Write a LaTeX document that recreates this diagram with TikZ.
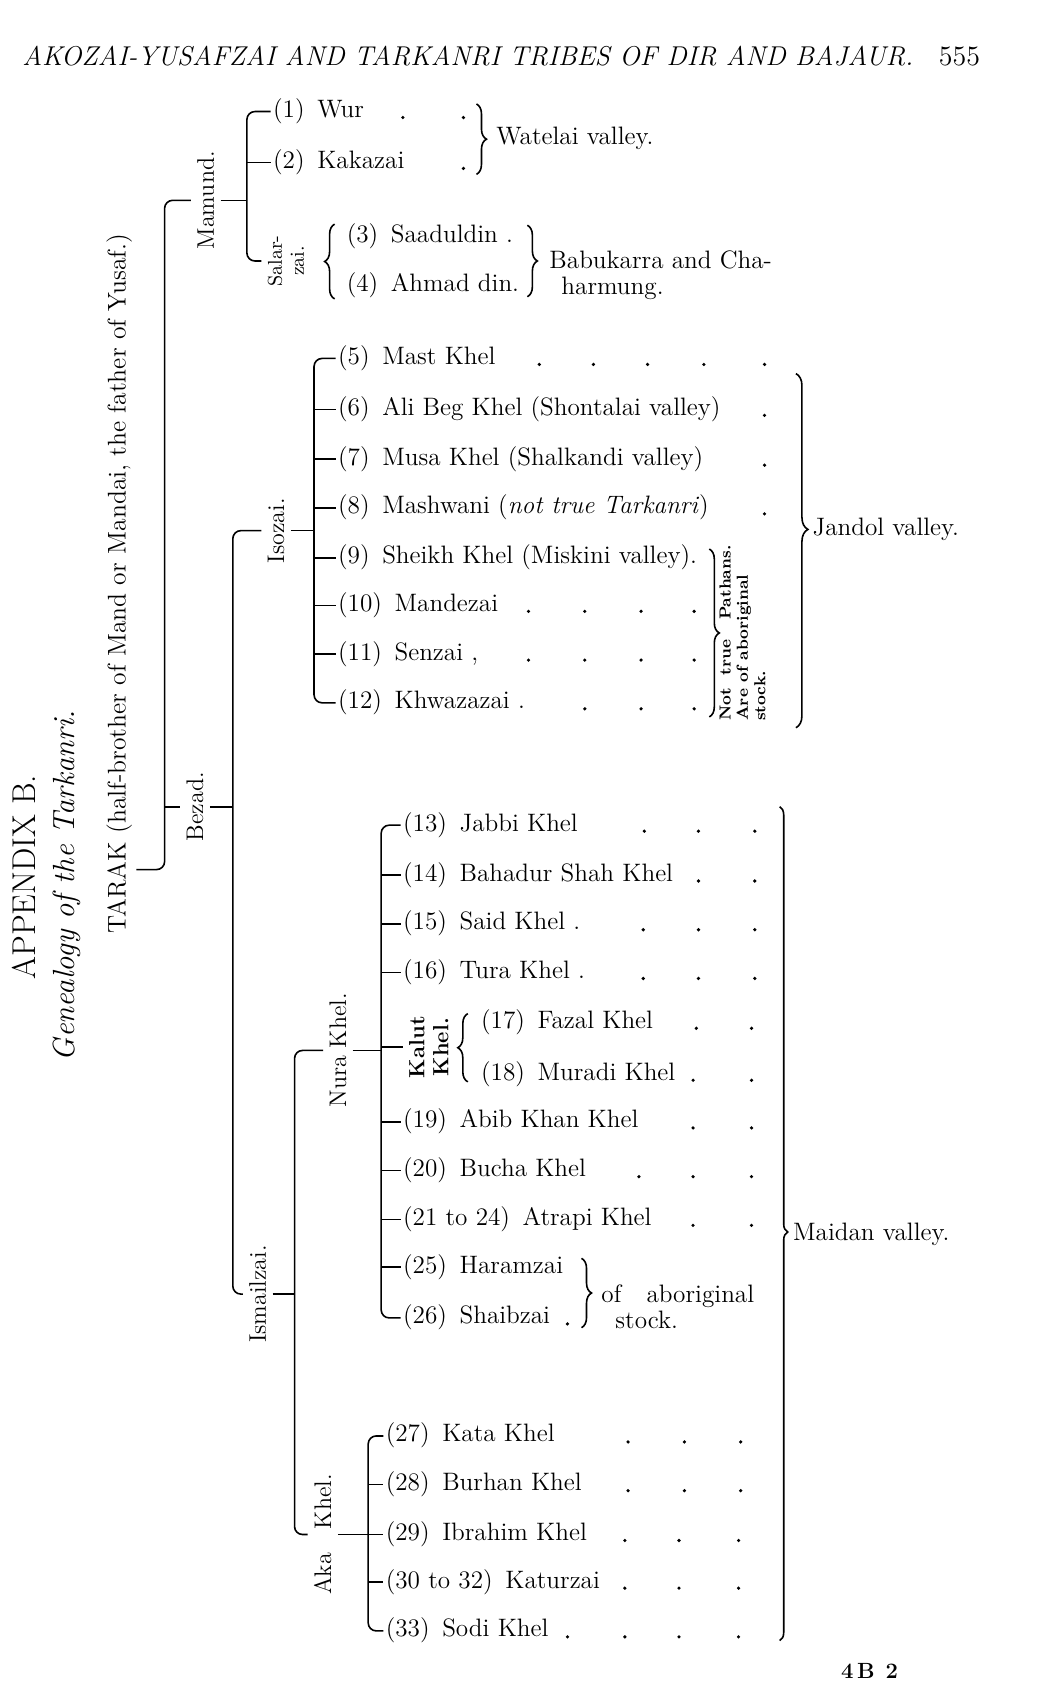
\documentclass[tikz,border=0pt]{standalone}
\usepackage{tikz}
\usetikzlibrary{decorations.pathreplacing}

\begin{document}
\begin{tikzpicture}[
  x=0.5414pt, y=-0.5414pt,
  conn/.style={line width=0.8pt},
  br/.style={line width=0.8pt, rounded corners=4pt},
  brc/.style={line width=0.8pt, decorate, decoration={brace, amplitude=#1}},
  brc/.default=5pt,
  item/.style={anchor=west, inner xsep=1pt, inner ysep=0pt,
               text height=9pt, text depth=3pt, font=\fontsize{12.6}{14}\selectfont},
  vlab/.style={rotate=90, inner sep=3pt, font=\fontsize{12}{13}\selectfont},
  note/.style={anchor=west, align=left, inner sep=0pt, font=\fontsize{12.6}{13}\selectfont}
]
\useasboundingbox (0,0) rectangle (978,1568);

\node[font=\fontsize{13.6}{15}\selectfont\itshape] (head) at (432,52)
  {AKOZAI-YUSAFZAI AND TARKANRI TRIBES OF DIR AND BAJAUR.};
\node[font=\fontsize{14}{15}\selectfont] (pgno) at (886,52) {555};

\node[vlab, font=\fontsize{16.5}{18}\selectfont] (appx) at (22,810) {APPENDIX B.};
\node[vlab, font=\fontsize{15.3}{18}\selectfont\itshape] (gen) at (62,818) {Genealogy of the Tarkanri.};
\node[vlab, font=\fontsize{12.8}{14}\selectfont] (tarak) at (110,539)
  {TARAK (half-brother of Mand or Mandai, the father of Yusaf.)};

\coordinate (tarakS) at (152,0);
\coordinate (tarakEnd) at (126,803);
\coordinate (mamS) at (228,0);
\coordinate (bezadS) at (215,0);
\coordinate (isoS) at (290,0);
\coordinate (ismS) at (272,0);
\coordinate (nuraS) at (352,0);
\coordinate (akaS) at (340,0);

\node[vlab] (mamund) at (190,185) {Mamund.};
\node[vlab, align=center, font=\fontsize{10}{11}\selectfont] (salar) at (264,241) {Salar-\\zai.};
\node[vlab] (bezad) at (180,745) {Bezad.};
\node[vlab] (isozai) at (255,490) {Isozai.};
\node[vlab] (ismail) at (238,1195) {Ismailzai.};
\node[vlab] (nura) at (312,970) {Nura Khel.};
\node[vlab, align=center, font=\fontsize{11}{12}\selectfont\bfseries] (kalut) at (396,967) {Kalut\\Khel.};
\node[vlab] (aka) at (298,1417) {Aka\quad Khel.};

\node[item] (i1) at (250,103) {(1)\enspace Wur};
\node[item] (i2) at (250,150) {(2)\enspace Kakazai};
\node[item] (i3) at (318,218) {(3)\enspace Saaduldin .};
\node[item] (i4) at (318,264) {(4)\enspace Ahmad din.};
\draw[brc] (309,276) -- (309,207);
\draw[brc] (440,96) -- (440,161);
\draw[brc] (487,208) -- (487,274);
\node[note] (watelai) at (458,128) {Watelai valley.};
\node[note] (babu) at (507,254) {Babukarra and Cha-\\\hspace{6pt}harmung.};

\foreach \n/\y/\t in {5/331/{Mast Khel}, 6/378/{Ali Beg Khel (Shontalai valley)},
    7/424/{Musa Khel (Shalkandi valley)}, 8/469/{Mashwani (\textit{not true Tarkanri})},
    9/515/{Sheikh Khel (Miskini valley).}, 10/559/{Mandezai}, 11/604/{Senzai ,},
    12/649/{Khwazazai .}}
  \node[item] (i\n) at (310,\y) {(\n)\enspace\t};

\draw[brc] (655,507) -- (655,662);
\node[rotate=90, anchor=north west, align=left, inner sep=0pt,
      font=\fontsize{8}{8.7}\selectfont\bfseries] (pathans) at (664,666)
  {Not\ \ true\ \ \ Pathans.\\Are\ of\ aboriginal\\stock.};
\draw[brc=6pt, decoration={aspect=0.44}] (735,345) -- (735,672);
\node[note] (jandol) at (750,489) {Jandol valley.};

\foreach \n/\k/\y/\t in {13/13/762/{Jabbi Khel}, 14/14/808/{Bahadur Shah Khel},
    15/15/853/{Said Khel .}, 16/16/898/{Tura Khel .}, 19/19/1036/{Abib Khan Khel},
    20/20/1081/{Bucha Khel}, 21/{21 to 24}/1126/{Atrapi Khel}, 25/25/1170/{Haramzai},
    26/26/1217/{Shaibzai}}
  \node[item] (i\n) at (370,\y) {(\k)\enspace\t};

\draw[brc] (432,999) -- (432,936);
\node[item] (i17) at (442,944) {(17)\enspace Fazal Khel};
\node[item] (i18) at (442,992) {(18)\enspace Muradi Khel};

\draw[brc] (537,1162) -- (537,1226);
\node[note] (abor) at (555,1207) {of\quad aboriginal\\\hspace{7pt}stock.};

\foreach \n/\k/\y/\t in {27/27/1326/{Kata Khel}, 28/28/1371/{Burhan Khel},
    29/29/1417/{Ibrahim Khel}, 30/{30 to 32}/1461/{Katurzai}, 33/33/1506/{Sodi Khel}}
  \node[item] (i\n) at (354,\y) {(\k)\enspace\t};

\draw[brc=4pt, decoration={aspect=0.51}] (720,745) -- (720,1515);
\node[note] (maidan) at (732,1140) {Maidan valley.};

\node[font=\fontsize{11}{12}\selectfont\bfseries] (sig) at (803,1543) {4\,B\enspace 2};

\foreach \r/\xs in {i1/{372,428}, i2/{428}, i5/{498,548,598,650,706}, i6/{706}, i7/{706},
    i8/{706}, i10/{488,540,592,641}, i11/{488,540,592,641}, i12/{540,592,641},
    i13/{595,645,697}, i14/{645,697}, i15/{594,645,697}, i16/{594,645,697},
    i17/{643,694}, i18/{640,694}, i19/{640,694}, i20/{590,640,694}, i21/{640,694},
    i26/{524}, i27/{580,632,684}, i28/{580,632,684}, i29/{577,627,682},
    i30/{577,627,682}, i33/{524,577,627,682}}
  \foreach \x in \xs
    \fill (\x,0 |- \r.base) circle (0.9pt);

\draw[br] (mamund.north) -- (tarakS |- mamund.north) -- (tarakS |- tarakEnd) -- (tarakEnd);
\draw[conn] (tarakS |- bezad.north) -- (bezad.north);
\draw[conn] (mamund.south) -- (mamS |- mamund.south);
\draw[br] (i1.west) -- (mamS |- i1.west) -- (mamS |- salar.north) -- (salar.north);
\draw[conn] (mamS |- i2.west) -- (i2.west);
\draw[conn] (bezad.south) -- (bezadS |- bezad.south);
\draw[br] (isozai.north) -- (bezadS |- isozai.north) -- (bezadS |- ismail.north) -- (ismail.north);
\draw[conn] (isozai.south) -- (isoS |- isozai.south);
\draw[br] (i5.west) -- (isoS |- i5.west) -- (isoS |- i12.west) -- (i12.west);
\foreach \n in {6,...,11}
  \draw[conn] (isoS |- i\n.west) -- (i\n.west);
\draw[conn] (ismail.south) -- (ismS |- ismail.south);
\draw[br] (nura.north) -- (ismS |- nura.north) -- (ismS |- aka.north) -- (aka.north);
\draw[conn] (nura.south) -- (nuraS |- nura.south);
\draw[br] (i13.west) -- (nuraS |- i13.west) -- (nuraS |- i26.west) -- (i26.west);
\foreach \n in {14,15,16,19,20,21,25}
  \draw[conn] (nuraS |- i\n.west) -- (i\n.west);
\draw[conn] (nuraS |- kalut.north) -- (kalut.north);
\draw[conn] (aka.south) -- (akaS |- aka.south);
\draw[br] (i27.west) -- (akaS |- i27.west) -- (akaS |- i33.west) -- (i33.west);
\foreach \n in {28,29,30}
  \draw[conn] (akaS |- i\n.west) -- (i\n.west);

\end{tikzpicture}
\end{document}
